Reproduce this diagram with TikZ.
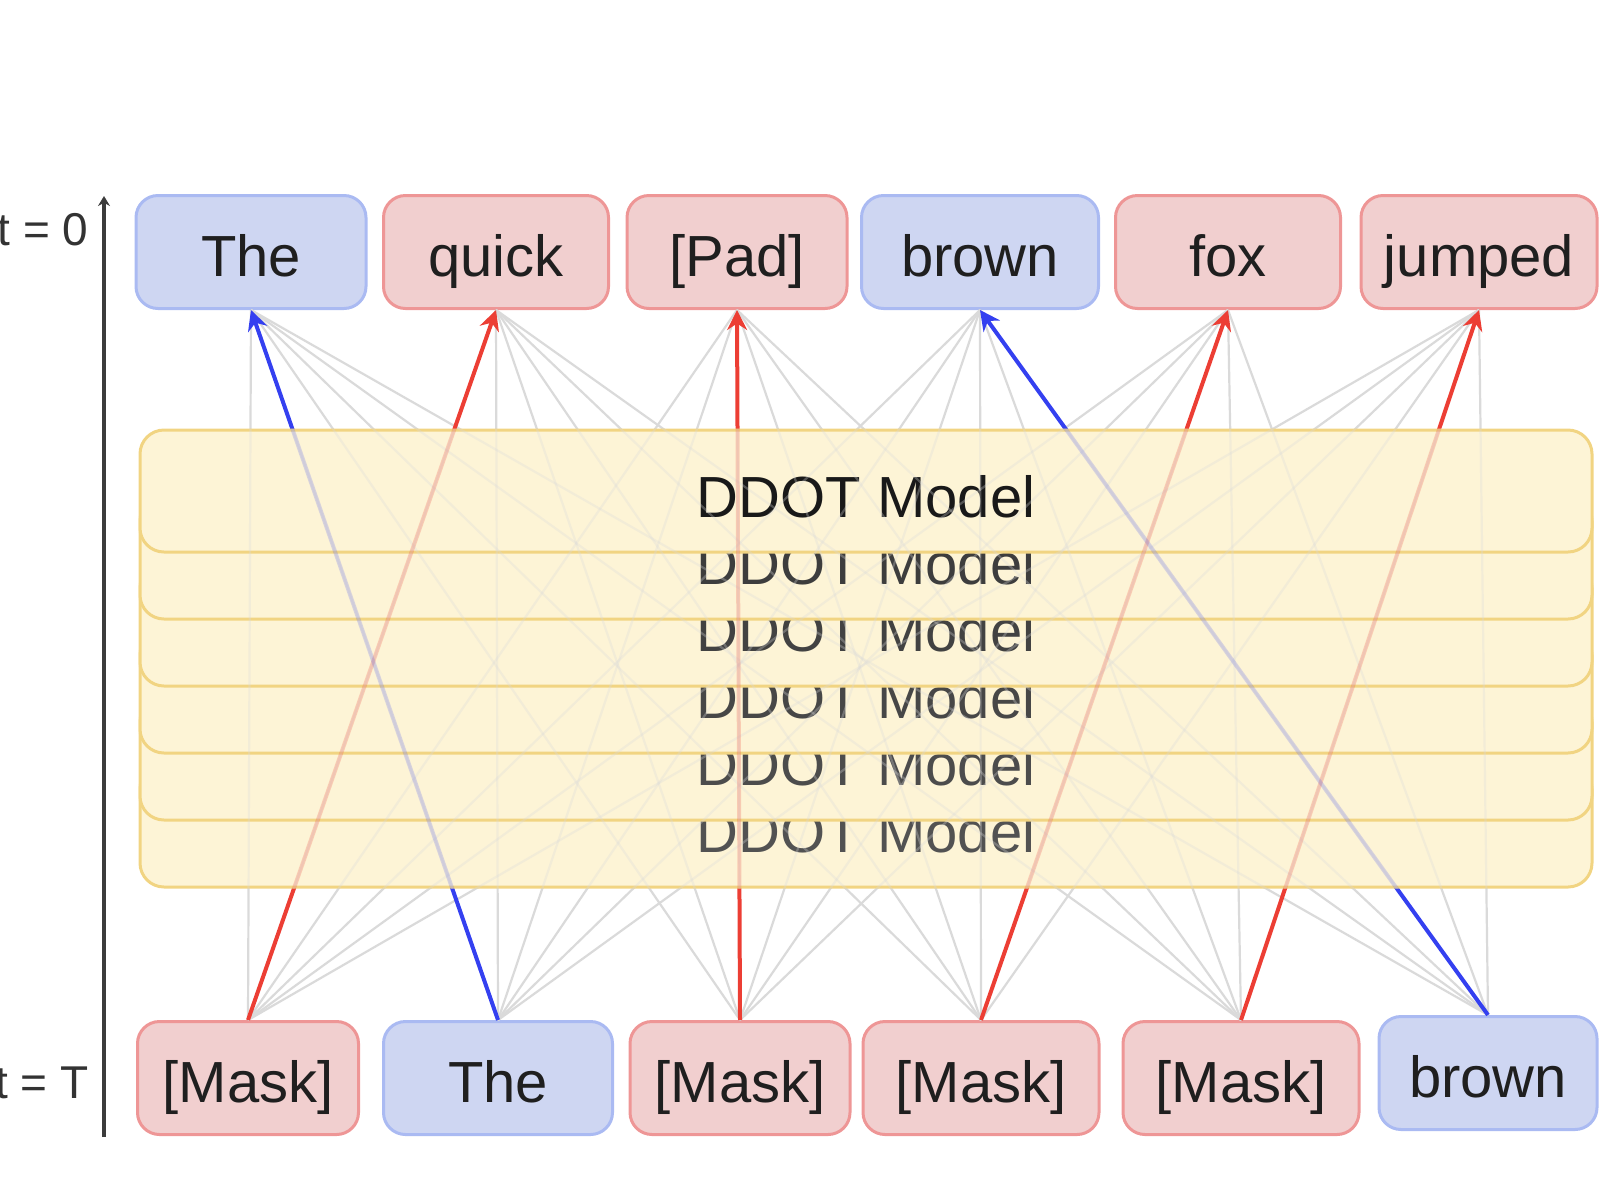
\documentclass[tikz,border=0pt]{standalone}
\usepackage{fontspec}
\setmainfont{Liberation Sans}
\usetikzlibrary{arrows.meta}
\definecolor{bfill}{RGB}{206,214,242}
\definecolor{bdraw}{RGB}{170,186,242}
\definecolor{rfill}{RGB}{241,207,207}
\definecolor{rdraw}{RGB}{238,150,150}
\definecolor{yfill}{RGB}{253,244,214}
\definecolor{ydraw}{RGB}{241,212,130}
\definecolor{gline}{RGB}{218,218,218}
\definecolor{rarrow}{RGB}{236,62,52}
\definecolor{barrow}{RGB}{52,64,240}
\definecolor{axisc}{RGB}{60,60,60}
\tikzset{
  tok/.style={rounded corners=11pt, minimum height=56.5pt, inner sep=0pt,
    text height=24.8pt, text depth=0pt,
    line width=1.5pt, font=\fontsize{29}{34}\selectfont, text=black!88},
  bluetok/.style={tok, fill=bfill, draw=bdraw},
  redtok/.style={tok, fill=rfill, draw=rdraw},
  layer/.style={rounded corners=12pt, minimum width=726pt, minimum height=61pt,
    inner sep=0pt, text height=26.9pt, text depth=0pt,
    fill=yfill, draw=ydraw, line width=1.5pt,
    font=\fontsize{29}{34}\selectfont},
  grayline/.style={draw=gline, line width=1.1pt},
  redarrow/.style={draw=rarrow, line width=2pt, -{Stealth[length=10pt,width=10pt]}},
  bluearrow/.style={draw=barrow, line width=2pt, -{Stealth[length=10pt,width=10pt]}},
  steplabel/.style={anchor=east, font=\fontsize{23}{28}\selectfont, text=black!80, inner sep=0pt}
}
\begin{document}
\begin{tikzpicture}[x=0.5pt,y=-0.5pt]
\useasboundingbox (0,0) rectangle (1600,1200);
% top row
\node[bluetok, minimum width=115pt] (t1) at (251,252) {The};
\node[redtok, minimum width=112.5pt] (t2) at (496,252) {quick};
\node[redtok, minimum width=110pt] (t3) at (737,252) {[Pad]};
\node[bluetok, minimum width=118.5pt] (t4) at (980,252) {brown};
\node[redtok, minimum width=112.5pt] (t5) at (1228,252) {fox};
\node[redtok, minimum width=118pt] (t6) at (1479,252) {jumped};
% bottom row
\node[redtok, minimum width=110.5pt] (b1) at (248,1078) {[Mask]};
\node[bluetok, minimum width=114.5pt] (b2) at (498,1078) {The};
\node[redtok, minimum width=110pt] (b3) at (740,1078) {[Mask]};
\node[redtok, minimum width=118pt] (b4) at (981,1078) {[Mask]};
\node[redtok, minimum width=118pt] (b5) at (1241,1078) {[Mask]};
\node[bluetok, minimum width=109pt] (b6) at (1488,1073) {brown};
% all connections
\foreach \i in {1,...,6}{
  \foreach \j in {1,...,6}{
    \draw[grayline] (b\i.north) -- (t\j.south);
  }
}
\draw[redarrow] (b1.north) -- (t2.south);
\draw[bluearrow] (b2.north) -- (t1.south);
\draw[redarrow] (b3.north) -- (t3.south);
\draw[redarrow] (b4.north) -- (t5.south);
\draw[redarrow] (b5.north) -- (t6.south);
\draw[bluearrow] (b6.north) -- (t4.south);
% model layers
\foreach \k/\c in {5/68,4/70,3/72,2/74,1/76,0/90}{
  \node[layer, text=black!\c] (L\k) at (866,491+67*\k) {DDOT Model};
}
% faint lines seen through the layers
\begin{scope}
\clip (140,429) rectangle (1592,888);
\foreach \i in {1,...,6}{
  \foreach \j in {1,...,6}{
    \draw[grayline, opacity=0.3] (b\i.north) -- (t\j.south);
  }
}
\draw[draw=rarrow, line width=2pt, opacity=0.22] (b1.north) -- (t2.south);
\draw[draw=barrow, line width=2pt, opacity=0.18] (b2.north) -- (t1.south);
\draw[draw=rarrow, line width=2pt, opacity=0.22] (b3.north) -- (t3.south);
\draw[draw=rarrow, line width=2pt, opacity=0.22] (b4.north) -- (t5.south);
\draw[draw=rarrow, line width=2pt, opacity=0.22] (b5.north) -- (t6.south);
\draw[draw=barrow, line width=2pt, opacity=0.18] (b6.north) -- (t4.south);
\end{scope}
% time axis
\coordinate (axb) at (104,1137);
\coordinate (axt) at (104,196);
\draw[draw=axisc, line width=2pt, -{Stealth[length=5pt,width=6pt]}] (axb) -- (axt);
\node[steplabel] (l0) at (89,230) {t = 0};
\node[steplabel] (lT) at (89,1083) {t = T};
\end{tikzpicture}
\end{document}
